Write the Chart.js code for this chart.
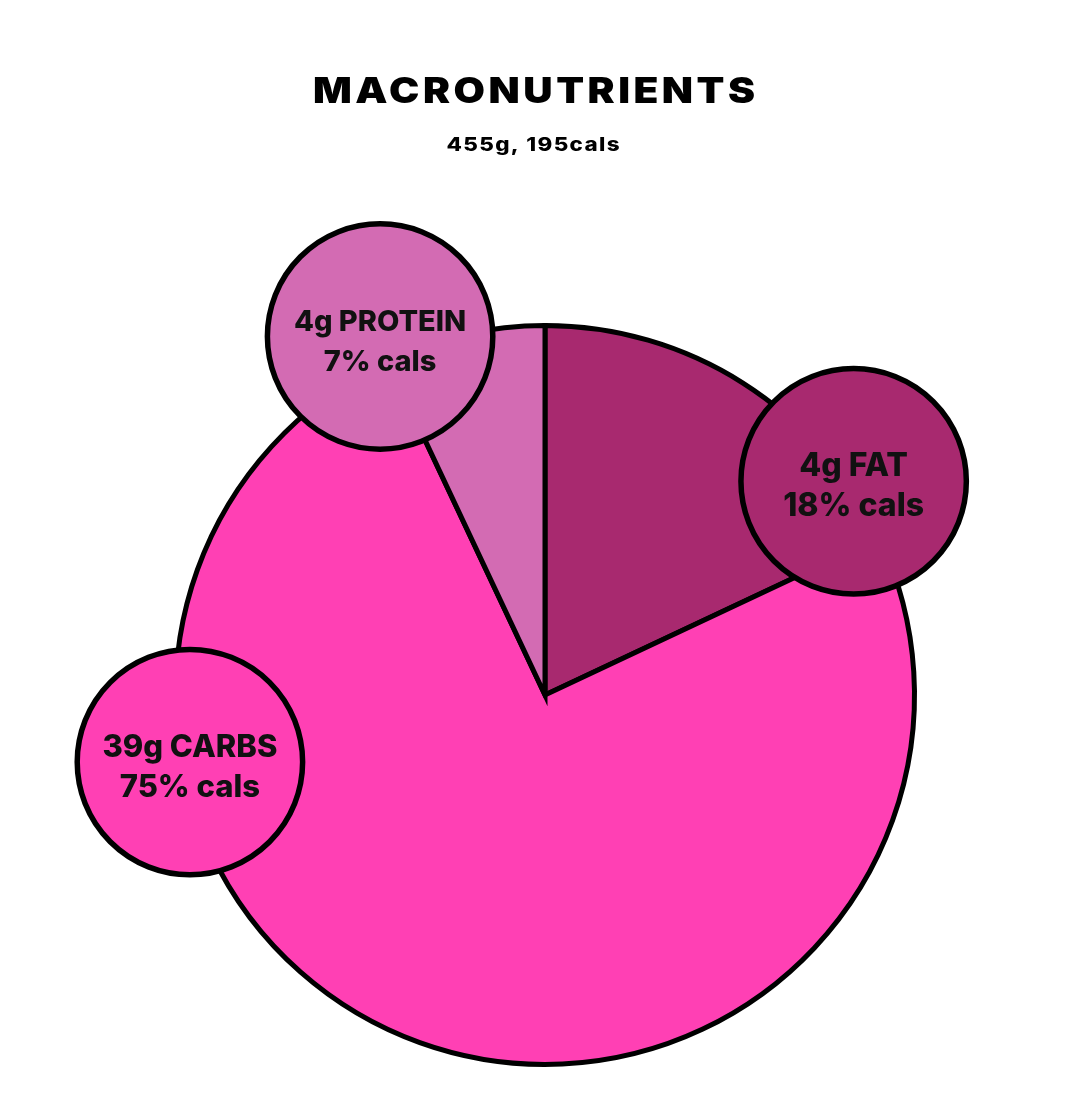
<!DOCTYPE html>
<html>
<head>
<meta charset="utf-8">
<script src="https://cdn.jsdelivr.net/npm/chart.js@4.4.0/dist/chart.umd.min.js"></script>
<style>
  html, body { margin: 0; padding: 0; background: #ffffff; }
  #wrap { width: 1066px; height: 1101px; }
</style>
</head>
<body>
<div id="wrap"><canvas id="macro-chart"></canvas></div>
<script>
// Dados do gráfico
const labels = ['FAT', 'CARBS', 'PROTEIN'];
const grams = [4, 39, 4];
const calPercent = [18, 75, 7];
const colors = ['#a8296f', '#ff40b4', '#d36bb3'];
const titleText = 'MACRONUTRIENTS';
const subtitleText = '455g, 195cals';

const FONT = 'Inter, "Noto Sans", sans-serif';

// Bolhas com os rótulos (ângulo em graus a partir do topo, distância relativa ao raio)
const bubbleSpots = {
    FAT: { angle: 55.3, dist: 1.016, size: 32 },
    CARBS: { angle: 259.3, dist: 0.978, size: 31 },
    PROTEIN: { angle: 335.3, dist: 1.068, size: 29 }
};

// Desenha texto esticado na horizontal, com espaçamento ajustado à largura desejada
function spacedText(ctx, text, x, y, width, stretch) {
    ctx.save();
    ctx.translate(x, y);
    ctx.scale(stretch, 1);
    ctx.letterSpacing = '0px';
    const target = width / stretch;
    const w = ctx.measureText(text).width;
    const sp = Math.max(0, (target - w) / (text.length - 1));
    ctx.letterSpacing = sp + 'px';
    ctx.fillText(text, sp / 2, 0);
    ctx.restore();
}

const bubblePlugin = {
    id: 'bubbles',
    afterDatasetsDraw(chart) {
        const ctx = chart.ctx;
        const arcs = chart.getDatasetMeta(0).data;
        if (!arcs.length) return;
        const cx = arcs[0].x;
        const cy = arcs[0].y;
        const r = arcs[0].outerRadius;
        const br = r * 0.305;

        labels.forEach((name, i) => {
            const spot = bubbleSpots[name];
            const a = (spot.angle - 90) * Math.PI / 180;
            const x = cx + Math.cos(a) * r * spot.dist;
            const y = cy + Math.sin(a) * r * spot.dist;

            ctx.save();
            ctx.beginPath();
            ctx.arc(x, y, br, 0, Math.PI * 2);
            ctx.fillStyle = colors[i];
            ctx.fill();
            ctx.lineWidth = 5.5;
            ctx.strokeStyle = '#000';
            ctx.stroke();

            ctx.fillStyle = '#111';
            ctx.textAlign = 'center';
            ctx.textBaseline = 'alphabetic';
            ctx.font = '800 ' + spot.size + 'px ' + FONT;
            ctx.fillText(grams[i] + 'g ' + name, x, y - 5);
            ctx.fillText(calPercent[i] + '% cals', x, y + 35);
            ctx.restore();
        });
    },
    afterDraw(chart) {
        const ctx = chart.ctx;
        ctx.save();
        ctx.fillStyle = '#000';
        ctx.textAlign = 'center';
        ctx.textBaseline = 'alphabetic';
        ctx.font = '900 35px ' + FONT;
        spacedText(ctx, titleText, 534, 103, 442, 1.16);
        ctx.font = '800 19px ' + FONT;
        spacedText(ctx, subtitleText, 533, 151, 173, 1.18);
        ctx.restore();
    }
};

document.addEventListener('DOMContentLoaded', function() {
    const ctx = document.getElementById('macro-chart').getContext('2d');

    new Chart(ctx, {
        type: 'pie',
        data: {
            labels: labels,
            datasets: [{
                data: calPercent,
                backgroundColor: colors,
                borderColor: '#000',
                borderWidth: 5,
                borderJoinStyle: 'miter'
            }]
        },
        options: {
            responsive: true,
            maintainAspectRatio: false,
            animation: false,
            layout: {
                padding: { top: 323, bottom: 34, left: 173, right: 149 }
            },
            plugins: {
                legend: { display: false },
                tooltip: { enabled: false }
            }
        },
        plugins: [bubblePlugin]
    });
});
</script>
</body>
</html>
